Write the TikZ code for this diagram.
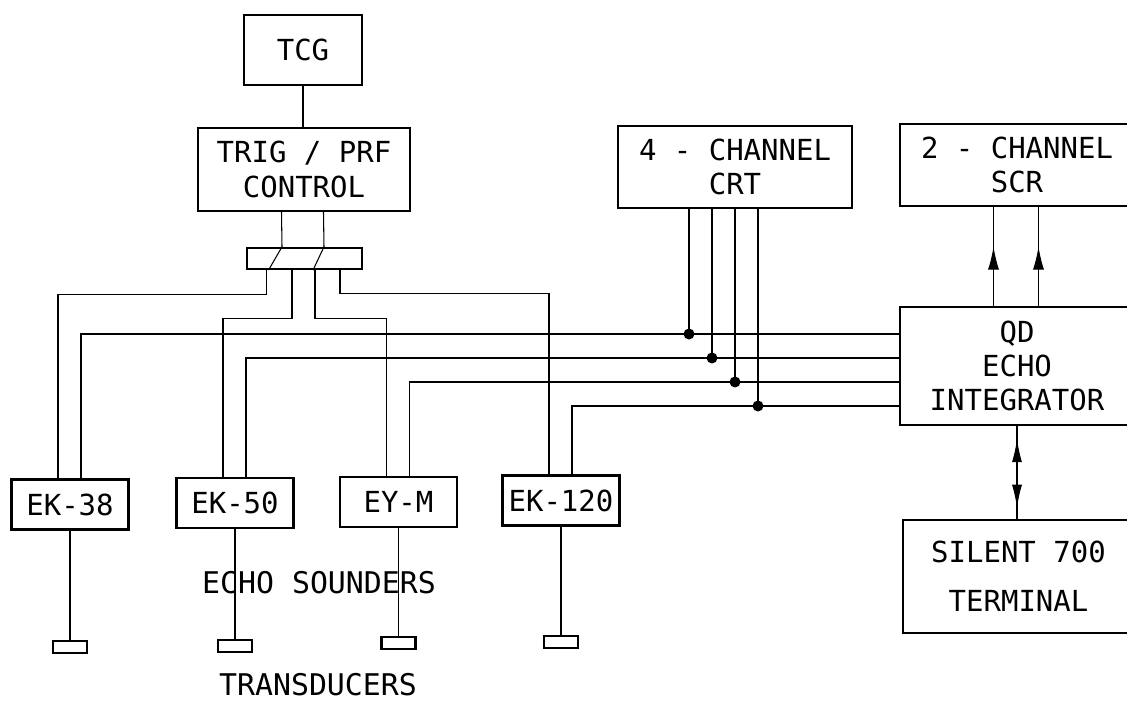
\documentclass[tikz,border=0pt]{standalone}
\usepackage{fontspec}
\setmonofont{DejaVu Sans Mono}
\usepackage{tikz}
\usetikzlibrary{arrows.meta, positioning, decorations.markings}
\tikzset{
  unitbox/.style={
    rectangle, draw, line width=1.3pt, inner sep=0pt,
    align=center, font=\fontsize{16.5}{19.6}\selectfont\ttfamily
  },
  echobox/.style={unitbox, minimum width=2.34cm, minimum height=1.0cm},
  transbox/.style={rectangle, draw, line width=1.3pt, minimum width=0.68cm, minimum height=0.24cm, inner sep=0pt},
  thinline/.style={line width=0.6pt},
  sigline/.style={line width=1.0pt},
  tapdot/.style={circle, fill, inner sep=0pt, minimum size=0.22cm},
  captext/.style={font=\fontsize{17}{20}\selectfont\ttfamily, inner sep=0pt},
  midarrow/.style={postaction={decorate}, decoration={markings,
    mark=at position #1 with {\arrow{Latex[length=0.46cm,width=0.22cm]}}}},
  twoarrows/.style={postaction={decorate}, decoration={markings,
    mark=at position 0.14 with {\arrowreversed{Latex[length=0.46cm,width=0.2cm]}},
    mark=at position 0.88 with {\arrow{Latex[length=0.46cm,width=0.2cm]}}}}
}

\begin{document}
\begin{tikzpicture}[x=0.02cm, y=-0.02cm]
  \useasboundingbox (0,0) rectangle (1127,702);

  % Draw control boxes
  \node[unitbox, minimum width=2.36cm, minimum height=1.4cm] (tcg) at (303,50) {TCG};
  \node[unitbox, minimum width=4.24cm, minimum height=1.66cm] (trig) at (304,169.5) {TRIG / PRF\\CONTROL};
  \node[unitbox, minimum width=2.3cm, minimum height=0.42cm] (bus) at (304.5,258.5) {};

  % Draw display and integrator boxes
  \node[unitbox, minimum width=4.68cm, minimum height=1.64cm] (crt) at (735,167) {4 - CHANNEL\\CRT};
  \node[unitbox, minimum width=4.68cm, minimum height=1.64cm] (scr) at (1017,165) {2 - CHANNEL\\SCR};
  \node[unitbox, minimum width=4.68cm, minimum height=2.36cm] (qd) at (1017,366) {QD\\ECHO\\INTEGRATOR};
  \node[unitbox, minimum width=4.62cm, minimum height=2.26cm] (silent) at (1018.5,576.5) {SILENT 700\\[0.3cm]TERMINAL};

  % Draw echo sounders and transducers
  \node[echobox] (ek38) at (70,504.5) {EK-38};
  \node[echobox] (ek50) at (235,503) {EK-50};
  \node[echobox] (eym) at (398.5,502) {EY-M};
  \node[echobox] (ek120) at (561,500.5) {EK-120};
  \node[transbox] (t38) at (70,647) {};
  \node[transbox] (t50) at (235,646) {};
  \node[transbox] (tym) at (398.5,643) {};
  \node[transbox] (t120) at (561,642) {};
  \node[captext] (sounders) at (319,583) {ECHO SOUNDERS};
  \node[captext] (transd) at (318,685) {TRANSDUCERS};

  % Draw trigger lines
  \draw[thinline] (tcg.south) -- (tcg.south |- trig.north);
  \draw[thinline] ([xshift=-0.45cm]trig.south) -- ([xshift=-0.45cm]bus.north);
  \draw[thinline] ([xshift=0.39cm]trig.south) -- ([xshift=0.39cm]bus.north);
  \draw[thinline] ([xshift=-0.45cm]bus.north) -- ([xshift=-0.72cm]bus.south);
  \draw[thinline] ([xshift=0.39cm]bus.north) -- ([xshift=0.17cm]bus.south);
  \draw[thinline] ([xshift=-0.76cm]bus.south) -- ++(0,24) -| ([xshift=-0.24cm]ek38.north);
  \draw[thinline] ([xshift=-0.25cm]bus.south) -- ++(0,48) -| ([xshift=-0.24cm]ek50.north);
  \draw[thinline] ([xshift=0.21cm]bus.south) -- ++(0,48) -| ([xshift=-0.24cm]eym.north);
  \draw[thinline] ([xshift=0.71cm]bus.south) -- ++(0,23) -| ([xshift=-0.24cm]ek120.north);

  % Draw echo signals to integrator, tapped by the CRT
  \foreach \src/\dy/\tx [count=\i] in {ek38/0.64/-0.92, ek50/0.16/-0.46, eym/-0.32/0, ek120/-0.80/0.46} {
    \coordinate (in\i) at ([yshift=\dy cm]qd.west);
    \coordinate (tap\i) at ([xshift=\tx cm]crt.south);
    \draw[sigline] ([xshift=0.22cm]\src.north) |- (in\i);
    \draw[thinline] (tap\i) -- (tap\i |- in\i) node[tapdot] (dot\i) {};
  }

  % Draw integrator outputs
  \foreach \dx [count=\i] in {-0.47, 0.43} {
    \coordinate (out\i) at ([xshift=\dx cm]qd.north);
    \draw[thinline, midarrow=0.6] (out\i) -- (out\i |- scr.south);
  }
  \draw[thinline, twoarrows] (qd.south) -- (qd.south |- silent.north);

  % Draw transducer cables
  \foreach \e/\t in {ek38/t38, ek50/t50, eym/tym, ek120/t120}
    \draw[thinline] (\e.south) -- (\t.north);
\end{tikzpicture}
\end{document}
